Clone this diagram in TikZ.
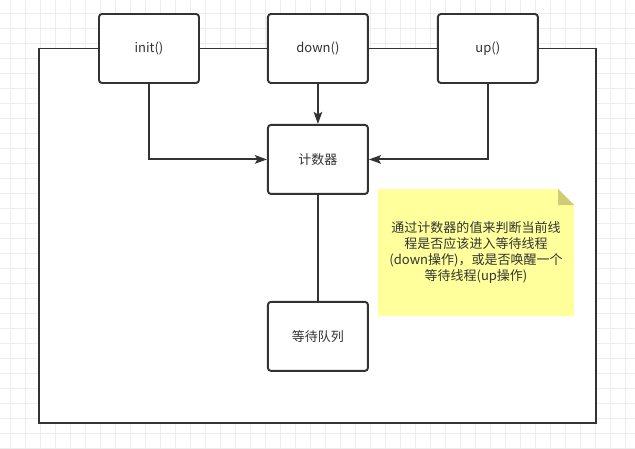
\documentclass[tikz,border=0pt]{standalone}
\usepackage{fontspec}
\setmainfont{Noto Sans CJK SC}
\usetikzlibrary{arrows.meta, positioning}
\definecolor{linegray}{HTML}{333333}
\definecolor{gridgray}{HTML}{EDEDED}
\definecolor{notefill}{HTML}{FFFF9C}
\definecolor{notefold}{HTML}{CDCD78}

\begin{document}
\begin{tikzpicture}[
    every node/.style={font=\fontsize{7.4}{9.1}\selectfont, text=linegray},
    box/.style={draw=linegray, line width=1.1pt, fill=white, rounded corners=1.7pt, minimum width=2cm, minimum height=1.38cm, align=center},
    frame/.style={draw=linegray, line width=1.1pt, fill=white, minimum width=11.14cm, minimum height=7.49cm},
    note/.style={fill=notefill, minimum width=3.92cm, minimum height=2.54cm, align=center,
        path picture={
            \fill[white] ([xshift=-0.32cm]path picture bounding box.north east) -- (path picture bounding box.north east) -- ([yshift=-0.32cm]path picture bounding box.north east) -- cycle;
            \fill[notefold] ([xshift=-0.32cm]path picture bounding box.north east) -- ([yshift=-0.32cm]path picture bounding box.north east) -- ([xshift=-0.32cm,yshift=-0.32cm]path picture bounding box.north east) -- cycle;
        }},
    ln/.style={draw=linegray, line width=1.1pt},
    ar/.style={ln, -{Stealth[length=0.24cm, width=0.17cm, inset=0.05cm]}}
]
\useasboundingbox (0,0) rectangle (12.7,-8.98);
% background grid
\foreach \x in {0,...,41} \draw[gridgray, line width=0.4pt] (0.2+0.3*\x,0) -- (0.2+0.3*\x,-8.98);
\foreach \y in {0,...,29} \draw[gridgray, line width=0.4pt] (0,-0.26-0.3*\y) -- (12.7,-0.26-0.3*\y);
% outer frame
\node[frame] (frame) at (6.35,-4.715) {};
% top row
\node[box] (init) at (2.98,-0.97) {init()};
\node[box, right=1.34cm of init] (down) {down()};
\node[box, right=1.36cm of down] (up) {up()};
% middle column
\node[box, below=0.80cm of down] (counter) {计数器};
\node[box, below=2.12cm of counter] (queue) {等待队列};
% sticky note
\node[note] (memo) at (9.52,-5.05) {通过计数器的值来判断当前线\\程是否应该进入等待线程\\(down操作)，或是否唤醒一个\\等待线程(up操作)};
% arrows
\draw[ar] (init.south) |- (counter.west);
\draw[ar] (down) -- (counter);
\draw[ar] (up.south) |- (counter.east);
\draw[ln] (counter) -- (queue);
\end{tikzpicture}
\end{document}
